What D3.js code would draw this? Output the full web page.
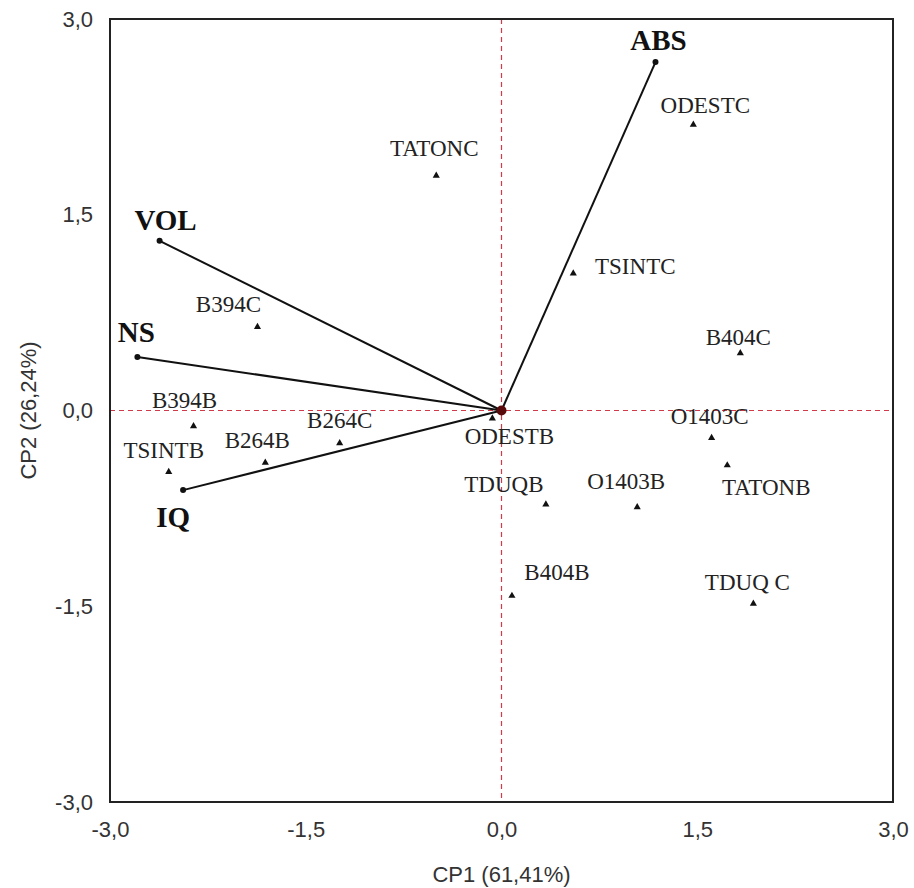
<!DOCTYPE html>
<html>
<head>
<meta charset="utf-8">
<script src="https://cdn.jsdelivr.net/npm/d3@7"></script>
<style>
  body { margin: 0; background: #fff; }
  .tick text { font-family: "Liberation Sans", Arial, sans-serif; font-size: 22px; fill: #333; }
  .obs { font-family: "Liberation Serif", "Times New Roman", serif; font-size: 23px; fill: #222; }
  .var { font-family: "Liberation Serif", "Times New Roman", serif; font-size: 29px; font-weight: bold; fill: #111; }
  .title { font-family: "Liberation Sans", Arial, sans-serif; font-size: 22px; fill: #333; }
</style>
</head>
<body>
<svg id="chart" width="914" height="888"></svg>
<script>
// observations (scores on CP1 / CP2)
const obsNames = ["TATONC","ODESTC","TSINTC","B404C","B394C","B394B","TSINTB","B264B",
                  "B264C","ODESTB","O1403C","TATONB","TDUQB","O1403B","B404B","TDUQ C"];
const obsCP1 = [-0.50, 1.47, 0.55, 1.83, -1.87, -2.36, -2.55, -1.81,
                -1.24, -0.07, 1.61, 1.73, 0.34, 1.04, 0.08, 1.93];
const obsCP2 = [1.80, 2.19, 1.05, 0.44, 0.64, -0.12, -0.47, -0.40,
                -0.25, -0.06, -0.21, -0.42, -0.72, -0.74, -1.42, -1.48];

// variables (loadings)
const varNames = ["ABS","VOL","NS","IQ"];
const varCP1 = [1.18, -2.62, -2.79, -2.44];
const varCP2 = [2.67, 1.30, 0.41, -0.61];

const ticks = [-3, -1.5, 0, 1.5, 3];
const xTitle = "CP1 (61,41%)";
const yTitle = "CP2 (26,24%)";

// label placement relative to the mark (text centre, baseline)
const obsLabelOffset = {
  "TATONC":[-2,-20], "ODESTC":[12,-12], "TSINTC":[62,1], "B404C":[-2,-8],
  "B394C":[-29,-15], "B394B":[-9,-18], "TSINTB":[-5,-14], "B264B":[-8,-15],
  "B264C":[0,-15], "ODESTB":[17,26], "O1403C":[-2,-14], "TATONB":[39,30],
  "TDUQB":[-42,-12], "O1403B":[-11,-18], "B404B":[45,-16], "TDUQ C":[-6,-14]
};
const varLabelOffset = { "ABS":[3,-12], "VOL":[6,-11], "NS":[-1,-15], "IQ":[-10,37] };

const margin = {left: 110, top: 19, right: 21, bottom: 86};
const width = 914 - margin.left - margin.right;
const height = 888 - margin.top - margin.bottom;

const svg = d3.select("#chart");
const g = svg.append("g").attr("transform", `translate(${margin.left},${margin.top})`);

const x = d3.scaleLinear().domain([-3, 3]).range([0, width]);
const y = d3.scaleLinear().domain([-3, 3]).range([height, 0]);
const fmt = v => d3.format(".1f")(v).replace(".", ",").replace("−", "-");

// axes
const xAxis = g.append("g").attr("transform", `translate(0,${height})`)
  .call(d3.axisBottom(x).tickValues(ticks).tickFormat(fmt).tickSize(0).tickPadding(19));
xAxis.select(".domain").remove();

const yAxis = g.append("g")
  .call(d3.axisLeft(y).tickValues(ticks).tickFormat(fmt).tickSize(0).tickPadding(17));
yAxis.select(".domain").remove();

// reference lines
g.append("line").attr("x1", x(0)).attr("x2", x(0)).attr("y1", 0).attr("y2", height)
  .attr("stroke", "#d23a4a").attr("stroke-width", 1.2).attr("stroke-dasharray", "5,4");
g.append("line").attr("x1", 0).attr("x2", width).attr("y1", y(0)).attr("y2", y(0))
  .attr("stroke", "#d23a4a").attr("stroke-width", 1.2).attr("stroke-dasharray", "5,4");

// frame
g.append("rect").attr("width", width).attr("height", height)
  .attr("fill", "none").attr("stroke", "#222").attr("stroke-width", 2);

// variable vectors
g.selectAll(".vec").data(varNames).enter().append("line")
  .attr("x1", x(0)).attr("y1", y(0))
  .attr("x2", (d,i) => x(varCP1[i])).attr("y2", (d,i) => y(varCP2[i]))
  .attr("stroke", "#111").attr("stroke-width", 2);

g.selectAll(".vecEnd").data(varNames).enter().append("circle")
  .attr("cx", (d,i) => x(varCP1[i])).attr("cy", (d,i) => y(varCP2[i]))
  .attr("r", 3).attr("fill", "#111");

g.selectAll(".varLabel").data(varNames).enter().append("text")
  .attr("class", "var").attr("text-anchor", "middle")
  .attr("x", (d,i) => x(varCP1[i]) + varLabelOffset[d][0])
  .attr("y", (d,i) => y(varCP2[i]) + varLabelOffset[d][1])
  .text(d => d);

// origin
g.append("circle").attr("cx", x(0)).attr("cy", y(0)).attr("r", 5).attr("fill", "#5a0a0a");

// observations
const tri = d3.symbol().type(d3.symbolTriangle).size(22);
g.selectAll(".obsMark").data(obsNames).enter().append("path")
  .attr("d", tri)
  .attr("transform", (d,i) => `translate(${x(obsCP1[i])},${y(obsCP2[i])})`)
  .attr("fill", "#111");

g.selectAll(".obsLabel").data(obsNames).enter().append("text")
  .attr("class", "obs").attr("text-anchor", "middle")
  .attr("x", (d,i) => x(obsCP1[i]) + obsLabelOffset[d][0])
  .attr("y", (d,i) => y(obsCP2[i]) + obsLabelOffset[d][1])
  .text(d => d);

// axis titles
svg.append("text").attr("class", "title").attr("text-anchor", "middle")
  .attr("x", margin.left + width / 2).attr("y", 882).text(xTitle);
svg.append("text").attr("class", "title").attr("text-anchor", "middle")
  .attr("transform", `translate(36,${margin.top + height / 2}) rotate(-90)`)
  .text(yTitle);
</script>
</body>
</html>
